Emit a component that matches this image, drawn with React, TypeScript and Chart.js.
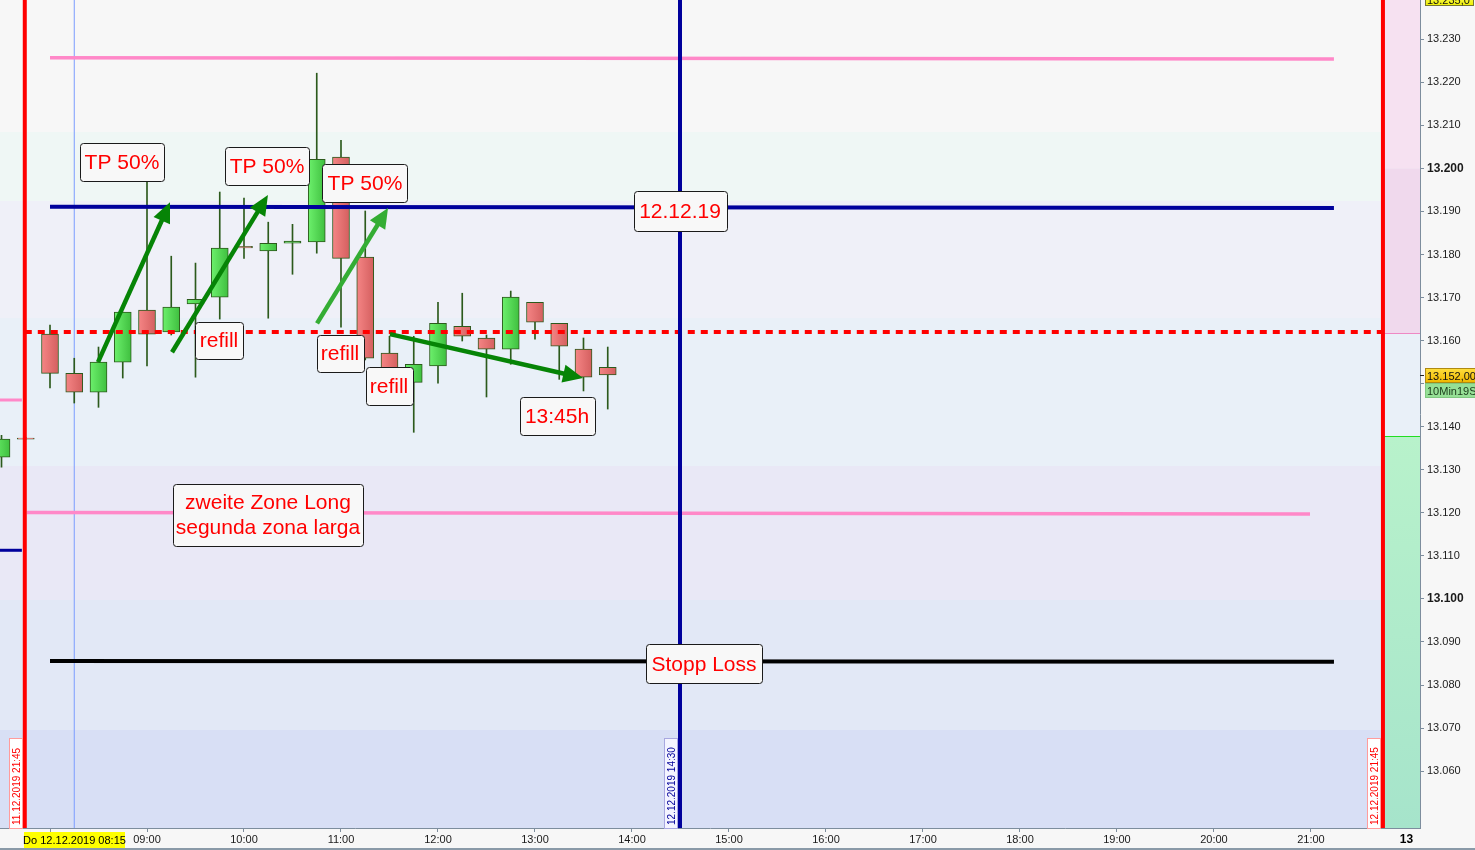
import React, { useEffect, useRef } from "react";
import { Chart, registerables } from "chart.js";
Chart.register(...registerables);

// ---------- DATA ----------
// candle time positions in hours (gap-compressed axis: previous day 21:30/21:45 shown before 08:00)
const candleTimes = [7.5, 7.75, 8, 8.25, 8.5, 8.75, 9, 9.25, 9.5, 9.75, 10, 10.25, 10.5, 10.75, 11, 11.25, 11.5, 11.75, 12, 12.25, 12.5, 12.75, 13, 13.25, 13.5, 13.75];
const opens = [13.1329, 13.1373, 13.1615, 13.1524, 13.1480, 13.1550, 13.1671, 13.1620, 13.1685, 13.1701, 13.1819, 13.1808, 13.1826, 13.1829, 13.2026, 13.1794, 13.1571, 13.1503, 13.1541, 13.1633, 13.1606, 13.1580, 13.1689, 13.1640, 13.1580, 13.1538];
const highs = [13.1380, 13.1375, 13.1636, 13.1559, 13.1585, 13.1666, 13.1968, 13.1796, 13.1780, 13.1945, 13.1931, 13.1875, 13.1870, 13.2221, 13.2065, 13.1901, 13.1610, 13.1610, 13.1689, 13.1710, 13.1613, 13.1715, 13.1689, 13.1640, 13.1606, 13.1585];
const lows = [13.1306, 13.1371, 13.1490, 13.1455, 13.1445, 13.1513, 13.1541, 13.1613, 13.1515, 13.1650, 13.1791, 13.1652, 13.1754, 13.1803, 13.1631, 13.1555, 13.1530, 13.1387, 13.1501, 13.1599, 13.1469, 13.1545, 13.1603, 13.1510, 13.1483, 13.1441];
const closes = [13.1371, 13.1371, 13.1524, 13.1480, 13.1550, 13.1666, 13.1615, 13.1678, 13.1696, 13.1815, 13.1815, 13.1826, 13.1831, 13.2021, 13.1791, 13.1559, 13.1536, 13.1545, 13.1640, 13.1610, 13.1580, 13.1701, 13.1643, 13.1587, 13.1515, 13.1520];

const xTickHours = [8, 9, 10, 11, 12, 13, 14, 15, 16, 17, 18, 19, 20, 21];
const yTickValues = [13.06, 13.07, 13.08, 13.09, 13.1, 13.11, 13.12, 13.13, 13.14, 13.15, 13.16, 13.17, 13.18, 13.19, 13.2, 13.21, 13.22, 13.23];
const boldTicks = [13.1, 13.2];

const xMin = 7.4845;
const xMax = 22.124;
const yMin = 13.0468;
const yMax = 13.2391;

const prevSessionEnd = 7.74; // 11.12.2019 21:45
const dateMarker = 14.495; // 12.12.2019 14:30
const sessionEnd = 21.742; // 12.12.2019 21:45
const startMarker = 8.25; // 08:15

// horizontal levels [startX, endX, startY, endY]
const levelTopPink = [8.0, 21.237, 13.2257, 13.2254];
const levelResistance = [8.0, 21.237, 13.1911, 13.1908];
const levelRefill = [7.74, 21.742, 13.162, 13.162];
const levelZone2 = [7.763, 20.99, 13.1201, 13.1197];
const levelStop = [8.0, 21.237, 13.0856, 13.0854];
const levelPrevPink = [7.4845, 7.71, 13.1462, 13.1462];
const levelPrevNavy = [7.4845, 7.71, 13.1113, 13.1113];

const currentPrice = 13.152;
const pinkZoneBottom = 13.1617;
const greenZoneTop = 13.1378;

const bandEdges = [13.2391, 13.2084, 13.1924, 13.1652, 13.1308, 13.0997, 13.0695, 13.0468];
const bandColors = ["#f7f7f7", "#eff7f5", "#eff0f8", "#e9f0f8", "#e9e8f6", "#e2e8f6", "#d8dff5"];

const labelBoxes = [
  { lines: ["TP 50%"], x: 8.742, y: 13.2014, w: 84, h: 38 },
  { lines: ["TP 50%"], x: 10.237, y: 13.2005, w: 84, h: 38 },
  { lines: ["TP 50%"], x: 11.247, y: 13.1966, w: 85, h: 38 },
  { lines: ["12.12.19"], x: 14.495, y: 13.1901, w: 93, h: 40 },
  { lines: ["refill"], x: 9.742, y: 13.1601, w: 48, h: 37 },
  { lines: ["refill"], x: 10.99, y: 13.1571, w: 47, h: 37 },
  { lines: ["refill"], x: 11.495, y: 13.1494, w: 47, h: 38 },
  { lines: ["13:45h"], x: 13.227, y: 13.1424, w: 75, h: 38 },
  { lines: ["zweite Zone Long", "segunda zona larga"], x: 10.247, y: 13.1195, w: 190, h: 62 },
  { lines: ["Stopp Loss"], x: 14.742, y: 13.0849, w: 116, h: 39 },
];

const arrows = [
  { x1: 8.495, y1: 13.155, x2: 9.237, y2: 13.1921, color: "#068406" },
  { x1: 9.258, y1: 13.1573, x2: 10.247, y2: 13.1938, color: "#068406" },
  { x1: 10.753, y1: 13.164, x2: 11.485, y2: 13.1908, color: "#34ad34" },
  { x1: 11.505, y1: 13.1615, x2: 13.495, y2: 13.1513, color: "#068406" },
];

const FONT = "Arial, 'Liberation Sans', sans-serif";

function pad2(n: number) {
  return n < 10 ? "0" + n : "" + n;
}

function seg(l: number[]) {
  return [
    { x: l[0], y: l[2] },
    { x: l[1], y: l[3] },
  ];
}
function vert(xv: number) {
  return [
    { x: xv, y: yMin },
    { x: xv, y: yMax },
  ];
}

function roundRect(ctx: CanvasRenderingContext2D, x: number, y: number, w: number, h: number, r: number) {
  ctx.beginPath();
  ctx.moveTo(x + r, y);
  ctx.lineTo(x + w - r, y);
  ctx.quadraticCurveTo(x + w, y, x + w, y + r);
  ctx.lineTo(x + w, y + h - r);
  ctx.quadraticCurveTo(x + w, y + h, x + w - r, y + h);
  ctx.lineTo(x + r, y + h);
  ctx.quadraticCurveTo(x, y + h, x, y + h - r);
  ctx.lineTo(x, y + r);
  ctx.quadraticCurveTo(x, y, x + r, y);
  ctx.closePath();
}

const bgPlugin = {
  id: "bgBands",
  beforeDraw(chart: any) {
    const { ctx, chartArea: a, scales } = chart;
    const x = scales.x;
    const y = scales.y;
    ctx.save();
    ctx.fillStyle = "#f7f7f7";
    ctx.fillRect(0, 0, chart.width, chart.height);
    const xr = x.getPixelForValue(sessionEnd);
    for (let i = 0; i < bandColors.length; i++) {
      const y1 = Math.round(y.getPixelForValue(bandEdges[i]));
      const y2 = Math.round(y.getPixelForValue(bandEdges[i + 1]));
      ctx.fillStyle = bandColors[i];
      ctx.fillRect(a.left, y1, xr - a.left, y2 - y1);
    }
    // right column (after session end)
    const yTop = a.top;
    const y200 = y.getPixelForValue(13.2);
    const yPink = y.getPixelForValue(pinkZoneBottom);
    const yGreen = y.getPixelForValue(greenZoneTop);
    ctx.fillStyle = "#f6e1f1";
    ctx.fillRect(xr, yTop, a.right - xr, y200 - yTop);
    ctx.fillStyle = "#f0d9ed";
    ctx.fillRect(xr, y200, a.right - xr, yPink - y200);
    ctx.fillStyle = "#e9f0f8";
    ctx.fillRect(xr, yPink, a.right - xr, yGreen - yPink);
    const g = ctx.createLinearGradient(0, yGreen, 0, a.bottom);
    g.addColorStop(0, "#b8f2cb");
    g.addColorStop(1, "#a6e4cb");
    ctx.fillStyle = g;
    ctx.fillRect(xr, yGreen, a.right - xr, a.bottom - yGreen);
    ctx.fillStyle = "#ee88c4";
    ctx.fillRect(xr, Math.round(yPink), a.right - xr, 1);
    ctx.fillStyle = "#22dd22";
    ctx.fillRect(xr, Math.round(yGreen), a.right - xr, 1);
    ctx.restore();
  },
};

function drawArrow(ctx: CanvasRenderingContext2D, x1: number, y1: number, x2: number, y2: number, color: string) {
  const dx = x2 - x1;
  const dy = y2 - y1;
  const len = Math.sqrt(dx * dx + dy * dy);
  const ux = dx / len;
  const uy = dy / len;
  const head = 20;
  const half = 9;
  const bx = x2 - ux * head;
  const by = y2 - uy * head;
  ctx.strokeStyle = color;
  ctx.fillStyle = color;
  ctx.lineWidth = 4.5;
  ctx.lineCap = "butt";
  ctx.beginPath();
  ctx.moveTo(x1, y1);
  ctx.lineTo(bx + ux * 2, by + uy * 2);
  ctx.stroke();
  ctx.beginPath();
  ctx.moveTo(x2, y2);
  ctx.lineTo(bx - uy * half, by + ux * half);
  ctx.lineTo(bx + uy * half, by - ux * half);
  ctx.closePath();
  ctx.fill();
}

const annoPlugin = {
  id: "annotations",
  afterDatasetsDraw(chart: any) {
    const { ctx, scales } = chart;
    const x = scales.x;
    const y = scales.y;
    ctx.save();
    for (const ar of arrows) {
      drawArrow(ctx, x.getPixelForValue(ar.x1), y.getPixelForValue(ar.y1), x.getPixelForValue(ar.x2), y.getPixelForValue(ar.y2), ar.color);
    }
    for (const b of labelBoxes) {
      const cx = x.getPixelForValue(b.x);
      const cy = y.getPixelForValue(b.y);
      const left = Math.round(cx - b.w / 2) + 0.5;
      const top = Math.round(cy - b.h / 2) + 0.5;
      roundRect(ctx, left, top, b.w, b.h, 3);
      ctx.fillStyle = "#f8f8f8";
      ctx.fill();
      ctx.strokeStyle = "#1a1a1a";
      ctx.lineWidth = 1;
      ctx.stroke();
      ctx.fillStyle = "#ff0000";
      ctx.font = "21px " + FONT;
      ctx.textAlign = "center";
      ctx.textBaseline = "middle";
      const n = b.lines.length;
      const lh = 25;
      b.lines.forEach((t, i) => {
        ctx.fillText(t, cx, cy + (i - (n - 1) / 2) * lh + 1);
      });
    }
    ctx.restore();
  },
};

function vLabel(ctx: CanvasRenderingContext2D, lineX: number, bottom: number, text: string, color: string, border: string, bg: string) {
  const w = 14;
  const h = 90;
  const right = Math.round(lineX - 2);
  const left = right - w;
  const top = bottom - h;
  ctx.fillStyle = bg;
  ctx.fillRect(left, top, w, h);
  ctx.strokeStyle = border;
  ctx.lineWidth = 1;
  ctx.strokeRect(left + 0.5, top + 0.5, w - 1, h);
  ctx.save();
  ctx.translate(left + w / 2 + 1, bottom - 3);
  ctx.rotate(-Math.PI / 2);
  ctx.fillStyle = color;
  ctx.font = "10px " + FONT;
  ctx.textAlign = "left";
  ctx.textBaseline = "middle";
  ctx.fillText(text, 0, 0);
  ctx.restore();
}

function tag(ctx: CanvasRenderingContext2D, x: number, y: number, w: number, h: number, text: string, bg: any, border: string, color: string, font: string) {
  ctx.fillStyle = bg;
  ctx.fillRect(x, y, w, h);
  ctx.strokeStyle = border;
  ctx.lineWidth = 1;
  ctx.strokeRect(x + 0.5, y + 0.5, w - 1, h - 1);
  ctx.fillStyle = color;
  ctx.font = font;
  ctx.textAlign = "left";
  ctx.textBaseline = "middle";
  ctx.fillText(text, x + 2, y + h / 2 + 1);
}

const overlayPlugin = {
  id: "overlay",
  afterDraw(chart: any) {
    const { ctx, chartArea: a, scales } = chart;
    const x = scales.x;
    const y = scales.y;
    ctx.save();
    vLabel(ctx, x.getPixelForValue(prevSessionEnd), a.bottom, "11.12.2019 21:45", "#ff0000", "#ff9c9c", "#ffffff");
    vLabel(ctx, x.getPixelForValue(dateMarker), a.bottom, "12.12.2019 14:30", "#000099", "#a8a8e0", "#f4f4ff");
    vLabel(ctx, x.getPixelForValue(sessionEnd), a.bottom, "12.12.2019 21:45", "#ff0000", "#ff9c9c", "#ffffff");

    // bottom strip line
    ctx.fillStyle = "#8a9aa8";
    ctx.fillRect(0, chart.height - 2, chart.width, 2);

    // bottom date tag
    const xs = x.getPixelForValue(startMarker);
    const tagLeft = Math.round(x.getPixelForValue(prevSessionEnd)) - 1;
    const tagW = Math.round((xs - tagLeft) * 2);
    ctx.fillStyle = "#ffff00";
    ctx.fillRect(tagLeft, a.bottom + 4, tagW, 16);
    ctx.fillStyle = "#000000";
    ctx.font = "11px " + FONT;
    ctx.textAlign = "center";
    ctx.textBaseline = "middle";
    ctx.fillText("Do 12.12.2019 08:15", tagLeft + tagW / 2, a.bottom + 12.5);

    // "13" under right column
    ctx.font = "bold 12px " + FONT;
    ctx.fillText("13", (x.getPixelForValue(sessionEnd) + a.right) / 2 + 5, a.bottom + 12);

    // right axis tags
    const g1 = ctx.createLinearGradient(0, -6, 0, 6);
    g1.addColorStop(0, "#ffff66");
    g1.addColorStop(1, "#eeee00");
    tag(ctx, a.right + 5, -7, 49, 13, "13.235,0", g1, "#777733", "#111111", "11px " + FONT);
    const yp = Math.round(y.getPixelForValue(currentPrice));
    const g2 = ctx.createLinearGradient(0, yp - 7, 0, yp + 7);
    g2.addColorStop(0, "#ffe040");
    g2.addColorStop(1, "#f0b800");
    tag(ctx, a.right + 5, yp - 7, 52, 15, "13.152,00", g2, "#b08a10", "#111111", "11px " + FONT);
    tag(ctx, a.right + 5, yp + 8, 52, 15, "10Min19S", "#96e096", "#80c880", "#1a3a1a", "11px " + FONT);
    ctx.fillStyle = "#222222";
    ctx.fillRect(a.right, yp, 4, 1);
    ctx.restore();
  },
};

export default function App() {
  const ref = useRef<HTMLCanvasElement>(null);
  useEffect(() => {
    document.body.style.margin = "0";
    const canvas = ref.current!;
    const bodyData = candleTimes.map((t, i) => ({ x: t, y: [opens[i], closes[i]] }));
    const wickData = candleTimes.map((t, i) => ({ x: t, y: [lows[i], highs[i]] }));

    const bodyColor = (c: any) => {
      const i = c.dataIndex;
      const up = i !== undefined && closes[i] >= opens[i];
      const fallback = up ? "#55dd55" : "#e87070";
      const xs = c.chart && c.chart.scales && c.chart.scales.x;
      if (c.type !== "data" || !xs || i === undefined) return fallback;
      const px = xs.getPixelForValue(candleTimes[i]);
      if (!isFinite(px)) return fallback;
      const g = c.chart.ctx.createLinearGradient(px - 8.5, 0, px + 8.5, 0);
      if (up) {
        g.addColorStop(0, "#6cf06c");
        g.addColorStop(1, "#3fbf3f");
      } else {
        g.addColorStop(0, "#f58585");
        g.addColorStop(1, "#d45f5f");
      }
      return g;
    };

    const lineDs = (data: any[], color: string, width: number, order: number, dash?: number[]) => ({
      type: "line",
      data,
      borderColor: color,
      borderWidth: width,
      pointRadius: 0,
      borderDash: dash || [],
      order,
      fill: false,
      tension: 0,
    });

    const chart = new Chart(canvas, {
      type: "bar",
      data: {
        datasets: [
          lineDs(vert(startMarker), "#7b9cff", 1, 5),
          {
            type: "bar",
            data: wickData,
            backgroundColor: "#2c5a1c",
            barThickness: 1,
            grouped: false,
            order: 4,
          },
          {
            type: "bar",
            data: bodyData,
            backgroundColor: bodyColor,
            borderColor: "#2c5a1c",
            borderWidth: 1,
            borderSkipped: false,
            barThickness: 17,
            grouped: false,
            minBarLength: 1,
            order: 3,
          },
          lineDs(seg(levelTopPink), "#ff88c8", 3.5, 1),
          lineDs(seg(levelZone2), "#ff88c8", 3.5, 1),
          lineDs(seg(levelPrevPink), "#ff88c8", 3, 1),
          lineDs(seg(levelResistance), "#00009c", 4, 1),
          lineDs(seg(levelPrevNavy), "#00009c", 3, 1),
          lineDs(seg(levelStop), "#000000", 4, 1),
          lineDs(seg(levelRefill), "#ff0000", 4, 1, [7, 6]),
          lineDs(vert(dateMarker), "#00009c", 4, 0),
          lineDs(vert(prevSessionEnd), "#ff0000", 4, 0),
          lineDs(vert(sessionEnd), "#ff0000", 4, 0),
        ] as any,
      },
      options: {
        animation: false,
        responsive: false,
        devicePixelRatio: 1,
        layout: { padding: 0 },
        plugins: { legend: { display: false }, tooltip: { enabled: false } },
        events: [],
        scales: {
          x: {
            type: "linear",
            min: xMin,
            max: xMax,
            offset: false,
            grid: { offset: false, drawOnChartArea: false, drawTicks: true, tickLength: 4, color: "#7d8d9d" },
            border: { display: true, color: "#7d8d9d" },
            afterBuildTicks: (s: any) => {
              s.ticks = xTickHours.map((v) => ({ value: v }));
            },
            afterFit: (s: any) => {
              s.height = 22;
              s.paddingLeft = 0;
              s.paddingRight = 0;
            },
            ticks: {
              autoSkip: false,
              maxRotation: 0,
              minRotation: 0,
              padding: 1,
              color: "#1a1a1a",
              font: { family: FONT, size: 11 },
              callback: (v: any) => (v === 8 ? "" : pad2(v) + ":00"),
            },
          },
          y: {
            type: "linear",
            position: "right",
            min: yMin,
            max: yMax,
            grid: { drawOnChartArea: false, drawTicks: true, tickLength: 4, color: "#7d8d9d" },
            border: { display: true, color: "#7d8d9d" },
            afterBuildTicks: (s: any) => {
              s.ticks = yTickValues.map((v) => ({ value: v }));
            },
            afterFit: (s: any) => {
              s.width = 55;
              s.paddingTop = 0;
              s.paddingBottom = 0;
            },
            ticks: {
              padding: 3,
              color: "#1a1a1a",
              font: (c: any) => {
                const v = c && c.tick ? c.tick.value : 0;
                const b = boldTicks.some((t) => Math.abs(t - v) < 1e-6);
                return { family: FONT, size: b ? 12 : 11, weight: b ? "bold" : "normal" };
              },
              callback: (v: any) => Number(v).toFixed(3),
            },
          },
        },
      } as any,
      plugins: [bgPlugin, annoPlugin, overlayPlugin],
    });
    return () => chart.destroy();
  }, []);
  return (
    <div style={{ position: "absolute", left: 0, top: 0, width: 1475, height: 850 }}>
      <canvas ref={ref} width={1475} height={850} style={{ display: "block", width: 1475, height: 850 }} />
    </div>
  );
}
